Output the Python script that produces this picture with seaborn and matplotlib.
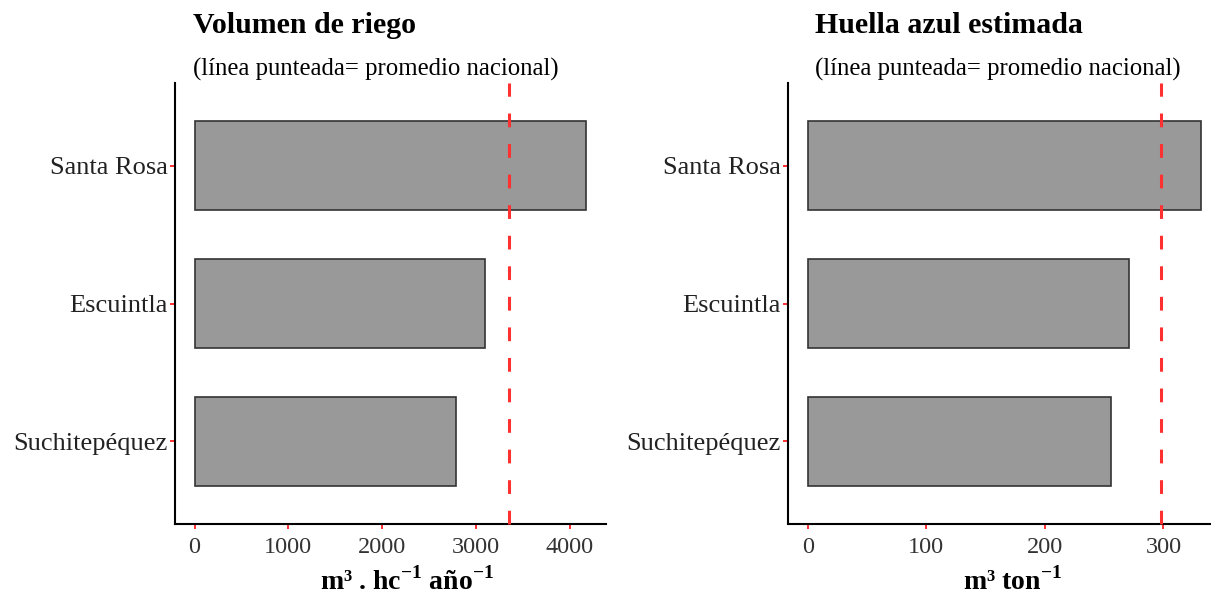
import matplotlib
matplotlib.use("Agg")
import matplotlib.pyplot as plt
import seaborn as sns
import pandas as pd

# Departamentos y valores por panel
departamentos = ["Santa Rosa", "Escuintla", "Suchitepéquez"]
volumen_riego = [4180, 3100, 2790]
huella_azul = [332, 271, 256]
promedio_volumen = 3350
promedio_huella = 298

titulos = ["Volumen de riego", "Huella azul estimada"]
subtitulo = "(línea punteada= promedio nacional)"
etiquetas_x = [r"m³ . hc$^{\mathbf{-1}}$ año$^{\mathbf{-1}}$", r"m³ ton$^{\mathbf{-1}}$"]
ticks_x = [[0, 1000, 2000, 3000, 4000], [0, 100, 200, 300]]

sns.set_style("white")
plt.rcParams["font.family"] = ["Liberation Serif", "DejaVu Serif"]
plt.rcParams["mathtext.fontset"] = "custom"
plt.rcParams["mathtext.rm"] = "Liberation Serif:bold"
plt.rcParams["mathtext.bf"] = "Liberation Serif:bold"

W, H = 1211, 596
fig = plt.figure(figsize=(W / 100, H / 100), dpi=100)


def frac_x(px):
    return px / W


def frac_y(py):
    return 1 - py / H


paneles = [
    dict(valores=volumen_riego, prom=promedio_volumen, left=175, right=606,
         titulo_x=193, label_x=407),
    dict(valores=huella_azul, prom=promedio_huella, left=788, right=1221,
         titulo_x=815, label_x=1013),
]
top_px, bottom_px = 83, 524

for i, p in enumerate(paneles):
    ax = fig.add_axes([frac_x(p["left"]), frac_y(bottom_px),
                       (p["right"] - p["left"]) / W, (bottom_px - top_px) / H])
    df = pd.DataFrame({"departamento": departamentos, "valor": p["valores"]})
    sns.barplot(data=df, x="valor", y="departamento", order=departamentos,
                orient="h", width=0.65, color="#999999", saturation=1,
                edgecolor="#333333", linewidth=1.2, ax=ax, zorder=2)
    ax.axvline(p["prom"], color="#ff3030", linestyle=(0, (4.5, 5.5)),
               linewidth=2.2, zorder=3, clip_on=False)
    vmax = max(p["valores"])
    ax.set_xlim(-0.05 * vmax, 1.05 * vmax)
    ax.set_ylim(2.6, -0.6)
    ax.set_xticks(ticks_x[i])
    ax.set_xticklabels([str(t) for t in ticks_x[i]])
    ax.set_xlabel("")
    ax.set_ylabel("")
    for s in ["top", "right"]:
        ax.spines[s].set_visible(False)
    for s in ["left", "bottom"]:
        ax.spines[s].set_color("black")
        ax.spines[s].set_linewidth(1.5)
    ax.tick_params(axis="both", which="major", bottom=True, left=True,
                   colors="#ff3030", length=3.5, width=1.4, direction="out")
    ax.tick_params(axis="x", pad=6, labelsize=17.5, labelcolor="#333333")
    ax.tick_params(axis="y", pad=1.5, labelsize=19, labelcolor="#222222")
    ax.grid(False)

    fig.text(frac_x(p["titulo_x"]), frac_y(33), titulos[i], fontsize=21.5,
             fontweight="bold", ha="left", va="baseline", color="black")
    fig.text(frac_x(p["titulo_x"]), frac_y(76), subtitulo, fontsize=17.8,
             ha="left", va="baseline", color="black")
    fig.text(frac_x(p["label_x"]), frac_y(590), etiquetas_x[i], fontsize=20,
             fontweight="bold", ha="center", va="baseline", color="black")

fig.savefig("out.png", dpi=100, facecolor="white")
